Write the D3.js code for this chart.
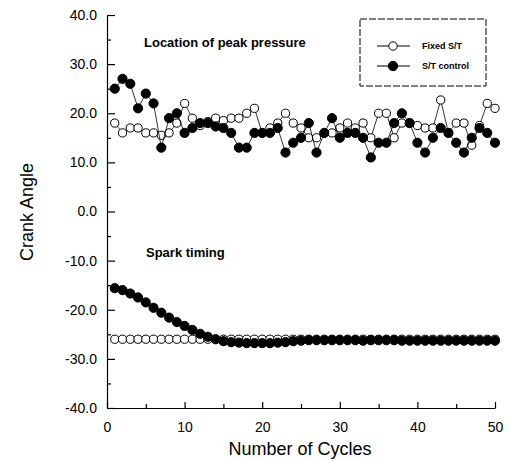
<!DOCTYPE html>
<html>
<head>
<meta charset="utf-8">
<script src="https://cdn.jsdelivr.net/npm/d3@7"></script>
<style>
    body {margin:0; background:#fff;}
    svg {font-family:"Liberation Sans", Arial, sans-serif;}
    .axis text {font-size:14px; fill:#000;}
    .axis path, .axis line {stroke:#000; stroke-width:1.2;}
</style>
</head>
<body>
<svg id="graph1"></svg>
<script>
//cycle numbers
var cycles = [1,2,3,4,5,6,7,8,9,10,11,12,13,14,15,16,17,18,19,20,
              21,22,23,24,25,26,27,28,29,30,31,32,33,34,35,36,37,38,39,40,
              41,42,43,44,45,46,47,48,49,50];

//location of peak pressure
var peakFixed = [18,16,17,17,16,16,15.5,16,18,22,19,17.5,18.3,19,18.5,19,19,20,21,16,
                 17,18,20,18,17,15,15,16,16,17,18,17,18,15,20,20,15,18,18,17.5,
                 17,17,22.7,16,18,18,13.5,17.5,22,21];
var peakControl = [25,27,26,21,24,22,13,19,20,16,17,18,18,17.3,17,16,13,13,16,16,
                   16,17,12,14,15,18,12,16,19,15,16,16,15,11,14,14,18,20,18,14,
                   12,15,17,16,14,12,15,17,16,14];

//spark timing
var sparkFixed = [-26,-26,-26,-26,-26,-26,-26,-26,-26,-26,-26,-26,-26,-26,-26,-26,-26,-26,-26,-26,
                  -26,-26,-26,-26,-26,-26,-26,-26,-26,-26,-26,-26,-26,-26,-26,-26,-26,-26,-26,-26,
                  -26,-26,-26,-26,-26,-26,-26,-26,-26,-26];
var sparkControl = [-15.6,-16,-16.7,-17.5,-18.5,-19.6,-20.6,-21.6,-22.5,-23.3,-24.1,-24.9,-25.5,-26,-26.4,-26.6,-26.7,-26.8,-26.8,-26.8,
                    -26.8,-26.7,-26.6,-26.4,-26.3,-26.2,-26.2,-26.2,-26.2,-26.2,-26.2,-26.2,-26.3,-26.2,-26.2,-26.2,-26.2,-26.3,-26.3,-26.3,
                    -26.3,-26.3,-26.3,-26.3,-26.3,-26.3,-26.3,-26.3,-26.3,-26.3];

var yTicks = [-40,-30,-20,-10,0,10,20,30,40];
var yMinor = [-35,-25,-15,-5,5,15,25,35];
var xTicks = [0,10,20,30,40,50];
var xMinor = [5,15,25,35,45];

var legendNames = ["Fixed S/T","S/T control"];

var drawSeries = function(g,values,xScale,yScale,filled)
{
    var pts = cycles.map(function(c,i){return {x:c,y:values[i]}});
    var line = d3.line()
        .x(function(d){return xScale(d.x)})
        .y(function(d){return yScale(d.y)});
    g.append("path")
        .datum(pts)
        .attr("d",line)
        .attr("fill","none")
        .attr("stroke","#000")
        .attr("stroke-width",0.8);
    g.selectAll(null)
        .data(pts)
        .enter()
        .append("circle")
        .attr("cx",function(d){return xScale(d.x)})
        .attr("cy",function(d){return yScale(d.y)})
        .attr("r",filled ? 4.6 : 4.1)
        .attr("fill",filled ? "#000" : "#fff")
        .attr("stroke","#000")
        .attr("stroke-width",1);
}

var drawChart = function(target)
{
    var screen = {width:512, height:461};
    var svg = d3.select(target)
        .attr("width",screen.width)
        .attr("height",screen.height);

    var xScale = d3.scaleLinear().domain([0,50]).range([107,495]);
    var yScale = d3.scaleLinear().domain([-40,40]).range([408,15]);

    //axes, ticks point inward
    svg.append("g")
        .classed("axis",true)
        .attr("transform","translate(0,408)")
        .call(d3.axisBottom(xScale).tickValues(xTicks).tickSizeInner(-6).tickSizeOuter(0).tickPadding(14));
    svg.append("g")
        .classed("axis",true)
        .attr("transform","translate(0,408)")
        .call(d3.axisBottom(xScale).tickValues(xMinor).tickSizeInner(-4).tickSizeOuter(0).tickFormat(""))
        .select(".domain").remove();
    svg.append("g")
        .classed("axis",true)
        .attr("transform","translate(107,0)")
        .call(d3.axisLeft(yScale).tickValues(yTicks).tickSizeInner(-8).tickSizeOuter(0).tickPadding(10)
              .tickFormat(function(d){return d.toFixed(1)}));
    svg.append("g")
        .classed("axis",true)
        .attr("transform","translate(107,0)")
        .call(d3.axisLeft(yScale).tickValues(yMinor).tickSizeInner(-4).tickSizeOuter(0).tickFormat(""))
        .select(".domain").remove();

    //axis titles
    svg.append("text")
        .text("Number of Cycles")
        .attr("x",300)
        .attr("y",455)
        .attr("text-anchor","middle")
        .style("font-size","18px");
    svg.append("g")
        .attr("transform","translate(33,212)")
        .append("text")
        .text("Crank Angle")
        .attr("text-anchor","middle")
        .attr("transform","rotate(-90)")
        .style("font-size","18px");

    //annotations
    svg.append("text")
        .text("Location of peak pressure")
        .attr("x",144)
        .attr("y",47)
        .style("font-size","13px")
        .style("font-weight","bold");
    svg.append("text")
        .text("Spark timing")
        .attr("x",146)
        .attr("y",257)
        .style("font-size","13px")
        .style("font-weight","bold");

    var g = svg.append("g").classed("graph",true);
    drawSeries(g,sparkFixed,xScale,yScale,false);
    drawSeries(g,sparkControl,xScale,yScale,true);
    drawSeries(g,peakFixed,xScale,yScale,false);
    drawSeries(g,peakControl,xScale,yScale,true);

    //legend
    var legend = svg.append("g").classed("legend",true);
    legend.append("rect")
        .attr("x",360)
        .attr("y",19)
        .attr("width",126)
        .attr("height",67)
        .attr("fill","#fff")
        .attr("stroke","#000")
        .attr("stroke-width",1)
        .attr("stroke-dasharray","7,2");
    legendNames.forEach(function(name,i)
    {
        var ly = 46 + i*20;
        legend.append("line")
            .attr("x1",377).attr("x2",410)
            .attr("y1",ly).attr("y2",ly)
            .attr("stroke","#000")
            .attr("stroke-width",1);
        legend.append("circle")
            .attr("cx",393)
            .attr("cy",ly)
            .attr("r",i==0 ? 4.2 : 4.7)
            .attr("fill",i==0 ? "#fff" : "#000")
            .attr("stroke","#000");
        legend.append("text")
            .text(name)
            .attr("x",422)
            .attr("y",ly+3)
            .style("font-size","9px")
            .style("font-weight","bold");
    })
}

drawChart("#graph1");
</script>
</body>
</html>
